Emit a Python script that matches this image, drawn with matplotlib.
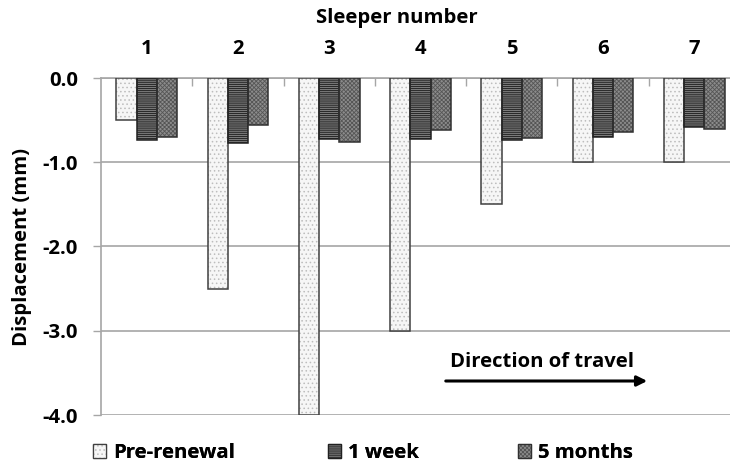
import matplotlib
matplotlib.use("Agg")
import matplotlib.pyplot as plt
import numpy as np
from matplotlib.patches import Patch, FancyArrowPatch
from matplotlib.legend_handler import HandlerTuple

plt.rcParams['font.family'] = ['Open Sans', 'DejaVu Sans']
plt.rcParams['hatch.linewidth'] = 0.6

sleepers = ['1', '2', '3', '4', '5', '6', '7']
pre_renewal = [-0.50, -2.50, -4.00, -3.00, -1.50, -1.00, -1.00]
one_week = [-0.73, -0.77, -0.72, -0.72, -0.74, -0.70, -0.58]
five_months = [-0.70, -0.56, -0.76, -0.62, -0.71, -0.64, -0.61]
series_names = ['Pre-renewal', '1 week', '5 months']
yticks = [0.0, -1.0, -2.0, -3.0, -4.0]

FS = 14.6
fig = plt.figure(figsize=(7.3, 4.65), dpi=100)
W, H = 730, 465
left, right, top, bottom = 101, 740, 78, 415
ax = fig.add_axes([left / W, 1 - bottom / H, (right - left) / W, (bottom - top) / H])

x = np.arange(len(sleepers))
bw = 0.222
styles = [
    dict(face='#f6f6f6', hatch='....', hcol='#bdbdbd', edge='#404040'),
    dict(face='#7a7a7a', hatch='--------', hcol='#1a1a1a', edge='#202020'),
    dict(face='#8c8c8c', hatch='xxxxxxxx', hcol='#555555', edge='#303030'),
]
handles = []
for i, (vals, st) in enumerate(zip([pre_renewal, one_week, five_months], styles)):
    xs = x + (i - 1) * bw
    ax.bar(xs, vals, bw, color=st['face'], hatch=st['hatch'], edgecolor=st['hcol'],
           linewidth=0, zorder=3)
    ax.bar(xs, vals, bw, facecolor='none', edgecolor=st['edge'], linewidth=1.1, zorder=4)
    h1 = Patch(facecolor=st['face'], hatch=st['hatch'], edgecolor=st['hcol'], linewidth=0)
    h2 = Patch(facecolor='none', edgecolor=st['edge'], linewidth=0.9)
    handles.append((h1, h2))

ax.set_xlim(-0.5, len(sleepers) - 0.5)
ax.set_ylim(-4.0, 0.0)
ax.set_yticks(yticks)
ax.set_yticklabels([f'{v:.1f}' for v in yticks], fontsize=FS, fontweight='bold')
ax.yaxis.grid(True, color='#a6a6a6', linewidth=1.2, zorder=0)
ax.set_axisbelow(True)

ax.xaxis.tick_top()
ax.xaxis.set_label_position('top')
ax.set_xticks(x)
ax.set_xticklabels(sleepers, fontsize=FS, fontweight='bold')
ax.tick_params(axis='x', which='major', length=0, pad=14)
ax.set_xticks(np.arange(0.5, len(sleepers) - 0.5, 1), minor=True)
ax.tick_params(axis='x', which='minor', direction='in', length=6, color='#a6a6a6', width=1)
ax.tick_params(axis='y', length=6, color='#a6a6a6', width=1, pad=10.5)
ax.set_xlabel('Sleeper number', fontsize=FS, fontweight='bold')
ax.set_ylabel('Displacement (mm)', fontsize=FS, fontweight='bold')
ax.xaxis.set_label_coords((397 - left) / (right - left), (bottom - 18) / (bottom - top))
ax.yaxis.set_label_coords((22 - left) / (right - left), 0.5)
ax.xaxis.label.set_va('center')
ax.yaxis.label.set_va('center')

for s in ['right', 'bottom']:
    ax.spines[s].set_visible(False)
for s in ['top', 'left']:
    ax.spines[s].set_color('#a6a6a6')
    ax.spines[s].set_linewidth(1.2)

fig.text(542 / W, 1 - 362 / H, 'Direction of travel', fontsize=FS, fontweight='bold',
         ha='center', va='center')
fig.add_artist(FancyArrowPatch(
    (443 / W, 1 - 381 / H), (650 / W, 1 - 381 / H), transform=fig.transFigure,
    arrowstyle='-|>', mutation_scale=15, color='black', linewidth=2.2))

leg_x = [93, 328, 518]
for h, name, lx in zip(handles, series_names, leg_x):
    lg = fig.legend([h], [name], loc='center left', bbox_to_anchor=(lx / W, 1 - 453 / H),
                    frameon=False, prop={'weight': 'bold', 'size': FS},
                    handler_map={tuple: HandlerTuple(ndivide=1, pad=0)},
                    handlelength=0.65, handleheight=0.65, handletextpad=0.35,
                    borderpad=0, borderaxespad=0)
    fig.add_artist(lg)

fig.savefig('out.png', dpi=100)
